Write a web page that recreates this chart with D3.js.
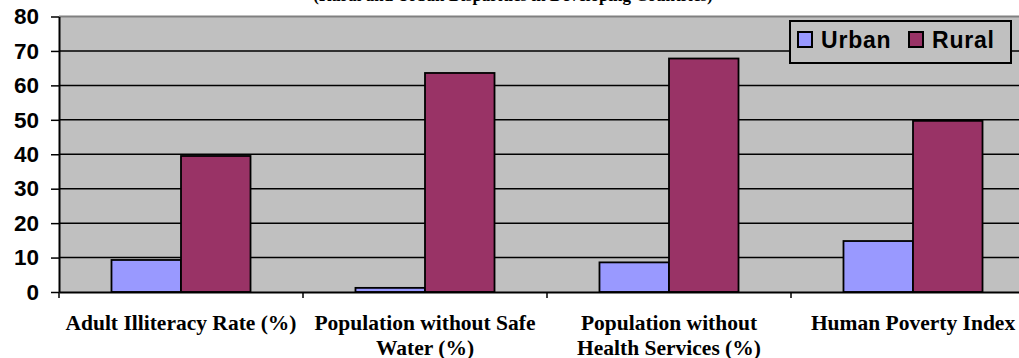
<!DOCTYPE html>
<html>
<head>
<meta charset="utf-8">
<script src="https://cdn.jsdelivr.net/npm/d3@7"></script>
<style>
  html, body { margin: 0; padding: 0; background: #ffffff; overflow: hidden; }
  svg { display: block; }
</style>
</head>
<body>
<svg id="chart" width="1019" height="358"></svg>
<script>
// Rural vs urban deprivation indicators
const categories = [
  "Adult Illiteracy Rate (%)",
  "Population without Safe\nWater (%)",
  "Population without\nHealth Services (%)",
  "Human Poverty Index"
];
const seriesNames = ["Urban", "Rural"];
const urbanValues = [9.3, 1.2, 8.6, 14.8];
const ruralValues = [39.5, 63.6, 67.8, 49.7];
const yTicks = [0, 10, 20, 30, 40, 50, 60, 70, 80];
const titleText = "(Rural and Urban Disparities in Developing Countries)";

const colors = { Urban: "#9999FF", Rural: "#993366" };
const values = { Urban: urbanValues, Rural: ruralValues };

const svg = d3.select("#chart");
const plotLeft = 59, plotTop = 16.5, plotBottom = 292;
const bandStep = 244;
const plotRight = plotLeft + bandStep * categories.length;

const x = d3.scaleBand()
  .domain(categories)
  .range([plotLeft, plotRight])
  .paddingInner(0).paddingOuter(0);

const xInner = d3.scaleBand()
  .domain(seriesNames)
  .range([0, x.bandwidth()])
  .paddingInner(0).paddingOuter(0.755);

const y = d3.scaleLinear().domain([0, 80]).range([plotBottom, plotTop]);

// Title (sits above the top edge of the page)
svg.append("text")
  .attr("x", 513).attr("y", 0.5)
  .attr("text-anchor", "middle")
  .attr("font-family", "'Liberation Serif', 'Times New Roman', serif")
  .attr("font-weight", "bold").attr("font-size", 17)
  .text(titleText);

// Plot area background
svg.append("rect")
  .attr("x", plotLeft).attr("y", plotTop)
  .attr("width", plotRight - plotLeft).attr("height", plotBottom - plotTop)
  .attr("fill", "#C0C0C0");

// Top border of plot area
svg.append("line")
  .attr("x1", plotLeft).attr("x2", plotRight)
  .attr("y1", plotTop).attr("y2", plotTop)
  .attr("stroke", "#808080").attr("stroke-width", 2);

// Horizontal gridlines
svg.append("g")
  .selectAll("line")
  .data(yTicks.filter(d => d > 0 && d < 80))
  .join("line")
  .attr("x1", plotLeft).attr("x2", plotRight)
  .attr("y1", d => y(d)).attr("y2", d => y(d))
  .attr("stroke", "#000").attr("stroke-width", 1.5);

// Bars
const groups = svg.append("g")
  .selectAll("g")
  .data(categories)
  .join("g")
  .attr("transform", d => `translate(${x(d)},0)`);

groups.selectAll("rect")
  .data((d, i) => seriesNames.map(s => ({ s, v: values[s][i] })))
  .join("rect")
  .attr("x", d => xInner(d.s))
  .attr("y", d => y(d.v))
  .attr("width", xInner.bandwidth())
  .attr("height", d => y(0) - y(d.v))
  .attr("fill", d => colors[d.s])
  .attr("stroke", "#000").attr("stroke-width", 1.8);

// Y axis
const yAxis = svg.append("g")
  .attr("transform", `translate(${plotLeft},0)`)
  .call(d3.axisLeft(y).tickValues(yTicks).tickSize(8).tickPadding(12).tickSizeOuter(0));
yAxis.select(".domain").attr("stroke", "#000").attr("stroke-width", 2);
yAxis.selectAll(".tick line").attr("stroke", "#000").attr("stroke-width", 1.5);
yAxis.selectAll(".tick text")
  .attr("font-family", "'Liberation Sans', Arial, sans-serif")
  .attr("font-weight", "bold").attr("font-size", 22.5)
  .attr("fill", "#000");

// X axis
const xAxis = svg.append("g")
  .attr("transform", `translate(0,${plotBottom})`)
  .call(d3.axisBottom(x).tickSize(0).tickSizeOuter(0).tickFormat(""));
xAxis.select(".domain").attr("stroke", "#000").attr("stroke-width", 2);

// Category boundary ticks
svg.append("g")
  .selectAll("line")
  .data(d3.range(categories.length + 1))
  .join("line")
  .attr("x1", i => plotLeft + i * bandStep).attr("x2", i => plotLeft + i * bandStep)
  .attr("y1", plotBottom).attr("y2", plotBottom + 6)
  .attr("stroke", "#000").attr("stroke-width", 1.5);

// Category labels
const labels = svg.append("g")
  .selectAll("text")
  .data(categories)
  .join("text")
  .attr("text-anchor", "middle")
  .attr("font-family", "'Liberation Serif', 'Times New Roman', serif")
  .attr("font-weight", "bold").attr("font-size", 21.5)
  .attr("fill", "#000");
labels.each(function(d) {
  const t = d3.select(this);
  const cx = x(d) + x.bandwidth() / 2;
  d.split("\n").forEach((line, k) => {
    t.append("tspan").attr("x", cx).attr("y", 330 + k * 24.5).text(line);
  });
});

// Legend
const legend = svg.append("g");
legend.append("rect")
  .attr("x", 790).attr("y", 21).attr("width", 221).attr("height", 42)
  .attr("fill", "#C0C0C0").attr("stroke", "#000").attr("stroke-width", 2);
const legendPos = { Urban: 798, Rural: 909 };
seriesNames.forEach(s => {
  legend.append("rect")
    .attr("x", legendPos[s]).attr("y", 32).attr("width", 14).attr("height", 15)
    .attr("fill", colors[s]).attr("stroke", "#000").attr("stroke-width", 2);
  legend.append("text")
    .attr("x", legendPos[s] + 23).attr("y", 48)
    .attr("font-family", "'Liberation Sans', Arial, sans-serif")
    .attr("font-weight", "bold").attr("font-size", 23)
    .attr("letter-spacing", 0.8)
    .attr("fill", "#000")
    .text(s);
});
</script>
</body>
</html>
